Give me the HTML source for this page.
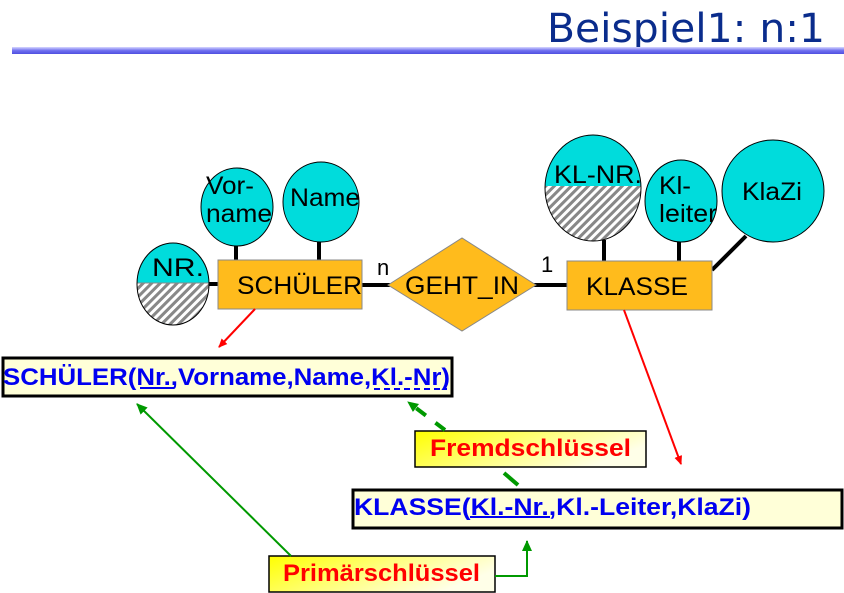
<!DOCTYPE html>
<html><head><meta charset="utf-8"><style>
html,body{margin:0;padding:0;background:#fff;}
svg{display:block;}
text{font-family:"Liberation Sans",sans-serif;}
</style></head><body>
<svg width="844" height="593" viewBox="0 0 844 593" xmlns="http://www.w3.org/2000/svg">
<defs>
<pattern id="h" width="6" height="6" patternUnits="userSpaceOnUse" patternTransform="rotate(45)">
<rect width="6" height="6" fill="#fff"/><rect width="3" height="6" fill="#888"/>
</pattern>
<linearGradient id="bl" x1="0" y1="0" x2="0" y2="1">
<stop offset="0" stop-color="#d8d8ff"/><stop offset="0.5" stop-color="#7070f0"/><stop offset="1" stop-color="#5050e0"/>
</linearGradient>
<linearGradient id="yl" x1="0" y1="0" x2="1" y2="0.4">
<stop offset="0" stop-color="#ffff00"/><stop offset="0.6" stop-color="#ffff90"/><stop offset="1" stop-color="#ffffe8"/>
</linearGradient>
<clipPath id="c1"><rect x="130" y="283" width="90" height="50"/></clipPath>
<clipPath id="c2"><rect x="540" y="186" width="110" height="60"/></clipPath>
<marker id="ar" markerWidth="10" markerHeight="10" refX="8" refY="5" orient="auto" markerUnits="userSpaceOnUse"><path d="M0,1 L9,5 L0,9 z" fill="#f00"/></marker>
<marker id="ag" markerWidth="12" markerHeight="12" refX="10" refY="6" orient="auto" markerUnits="userSpaceOnUse"><path d="M0,1 L11,6 L0,11 z" fill="#090"/></marker>
</defs>

<text x="825" y="42" text-anchor="end" font-size="40" fill="#0a2c8c" textLength="278" lengthAdjust="spacingAndGlyphs" style="font-family:'DejaVu Sans',sans-serif">Beispiel1: n:1</text>
<rect x="12" y="47" width="832" height="7" fill="url(#bl)"/>

<g stroke="#000" stroke-width="4">
<line x1="236" y1="243" x2="236" y2="261"/>
<line x1="319" y1="240" x2="319" y2="261"/>
<line x1="207" y1="284" x2="219" y2="284"/>
<line x1="362" y1="285" x2="390" y2="285"/>
<line x1="533" y1="285" x2="568" y2="285"/>
<line x1="604" y1="240" x2="604" y2="262"/>
<line x1="679" y1="240" x2="679" y2="262"/>
<line x1="712" y1="270" x2="746" y2="236"/>
</g>

<ellipse cx="173" cy="284" rx="36" ry="41" fill="#00dcdc"/>
<ellipse cx="173" cy="284" rx="36" ry="41" fill="url(#h)" clip-path="url(#c1)"/>
<line x1="137" y1="283" x2="209" y2="283" stroke="#888" stroke-width="1"/>
<ellipse cx="173" cy="284" rx="36" ry="41" fill="none" stroke="#000" stroke-width="1"/>
<text x="152" y="276" font-size="25" textLength="52" lengthAdjust="spacingAndGlyphs">NR.</text>

<ellipse cx="237" cy="207" rx="36" ry="39" fill="#00dcdc" stroke="#000"/>
<text x="206" y="194" font-size="25" textLength="48" lengthAdjust="spacingAndGlyphs">Vor-</text>
<text x="206" y="222" font-size="25" textLength="66" lengthAdjust="spacingAndGlyphs">name</text>
<ellipse cx="321" cy="202" rx="38" ry="40" fill="#00dcdc" stroke="#000"/>
<text x="290" y="206" font-size="25" textLength="70" lengthAdjust="spacingAndGlyphs">Name</text>

<rect x="218" y="260" width="144" height="49" fill="#ffbb1c" stroke="#888"/>
<text x="237" y="294" font-size="25" textLength="125" lengthAdjust="spacingAndGlyphs">SCHÜLER</text>

<polygon points="388,285 462,238 536,285 462,331" fill="#ffbb1c" stroke="#888"/>
<text x="405" y="294" font-size="25" textLength="114" lengthAdjust="spacingAndGlyphs">GEHT_IN</text>
<text x="377" y="275" font-size="22">n</text>
<text x="541" y="272" font-size="22">1</text>

<rect x="567" y="261" width="145" height="49" fill="#ffbb1c" stroke="#888"/>
<text x="586" y="295" font-size="25" textLength="102" lengthAdjust="spacingAndGlyphs">KLASSE</text>

<ellipse cx="593" cy="188" rx="48" ry="53" fill="#00dcdc"/>
<ellipse cx="593" cy="188" rx="48" ry="53" fill="url(#h)" clip-path="url(#c2)"/>
<ellipse cx="593" cy="188" rx="48" ry="53" fill="none" stroke="#000"/>
<text x="554" y="183" font-size="25" textLength="88" lengthAdjust="spacingAndGlyphs">KL-NR.</text>
<ellipse cx="681" cy="201" rx="36" ry="41" fill="#00dcdc" stroke="#000"/>
<text x="659" y="194" font-size="25" textLength="32" lengthAdjust="spacingAndGlyphs">Kl-</text>
<text x="659" y="222" font-size="25" textLength="58" lengthAdjust="spacingAndGlyphs">leiter</text>
<ellipse cx="773" cy="191" rx="51" ry="51" fill="#00dcdc" stroke="#000"/>
<text x="742" y="200" font-size="25" textLength="60" lengthAdjust="spacingAndGlyphs">KlaZi</text>

<line x1="255" y1="309" x2="219" y2="347" stroke="#f00" stroke-width="2" marker-end="url(#ar)"/>
<line x1="624" y1="310" x2="681" y2="464" stroke="#f00" stroke-width="2" marker-end="url(#ar)"/>

<rect x="3" y="358" width="449" height="38" fill="#ffffd8" stroke="#000" stroke-width="3"/>
<text x="3" y="385" font-size="24" font-weight="bold" fill="#0000f0" textLength="447" lengthAdjust="spacingAndGlyphs">SCHÜLER(Nr.,Vorname,Name,Kl.-Nr)</text>
<line x1="140" y1="388" x2="174" y2="388" stroke="#0000f0" stroke-width="2"/>
<line x1="374" y1="389" x2="447" y2="389" stroke="#0000f0" stroke-width="2" stroke-dasharray="6,4"/>

<rect x="353" y="490" width="489" height="38" fill="#ffffd8" stroke="#000" stroke-width="3"/>
<text x="354" y="515" font-size="24" font-weight="bold" fill="#0000f0" textLength="397" lengthAdjust="spacingAndGlyphs">KLASSE(Kl.-Nr.,Kl.-Leiter,KlaZi)</text>
<line x1="470" y1="517" x2="550" y2="517" stroke="#0000f0" stroke-width="2"/>

<rect x="415" y="431" width="231" height="36" fill="url(#yl)" stroke="#000" stroke-width="1.5"/>
<text x="430" y="456" font-size="24" font-weight="bold" fill="#f00" textLength="201" lengthAdjust="spacingAndGlyphs">Fremdschlüssel</text>
<line x1="445" y1="430" x2="408" y2="402" stroke="#090" stroke-width="4" stroke-dasharray="12,12" marker-end="url(#ag)"/>
<line x1="504" y1="473" x2="518" y2="485" stroke="#090" stroke-width="4"/>

<rect x="269" y="556" width="226" height="36" fill="url(#yl)" stroke="#000" stroke-width="1.5"/>
<text x="283" y="581" font-size="24" font-weight="bold" fill="#f00" textLength="197" lengthAdjust="spacingAndGlyphs">Primärschlüssel</text>
<line x1="291" y1="556" x2="137" y2="404" stroke="#090" stroke-width="2" marker-end="url(#ag)"/>
<polyline points="495,576 527,576 527,541" fill="none" stroke="#090" stroke-width="2" marker-end="url(#ag)"/>
</svg>
</body></html>
